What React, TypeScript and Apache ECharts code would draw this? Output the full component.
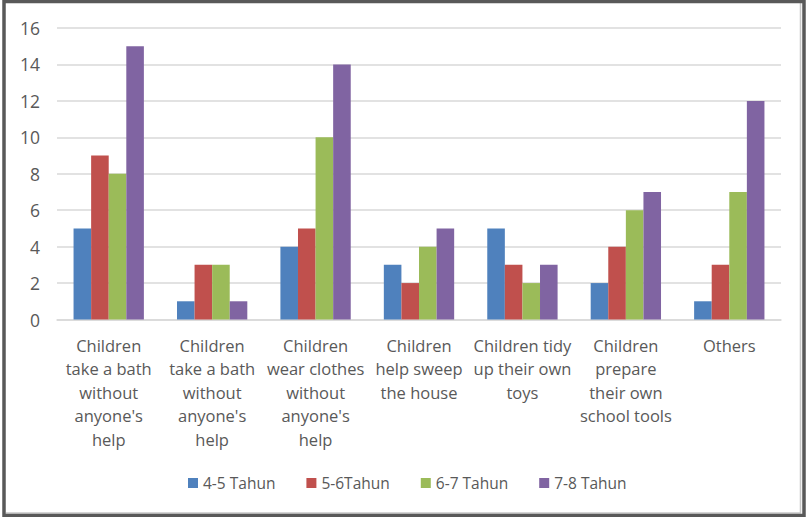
import React, { useEffect, useRef } from "react";
import * as echarts from "echarts";

const categories = [
  "Children\ntake a bath\nwithout\nanyone's\nhelp",
  "Children\ntake a bath\nwithout\nanyone's\nhelp",
  "Children\nwear clothes\nwithout\nanyone's\nhelp",
  "Children\nhelp sweep\nthe house",
  "Children tidy\nup their own\ntoys",
  "Children\nprepare\ntheir own\nschool tools",
  "Others",
];
const seriesNames = ["4-5 Tahun", "5-6Tahun", "6-7 Tahun", "7-8 Tahun"];
const age45 = [5, 1, 4, 3, 5, 2, 1];
const age56 = [9, 3, 5, 2, 3, 4, 3];
const age67 = [8, 3, 10, 4, 2, 6, 7];
const age78 = [15, 1, 14, 5, 3, 7, 12];
const colors = ["#4F81BD", "#C0504D", "#9BBB59", "#8064A2"];

const FONT = "'Open Sans', sans-serif";
const TEXT = "#595959";

export default function App() {
  const ref = useRef<HTMLDivElement>(null);
  useEffect(() => {
    document.body.style.margin = "0";
    const chart = echarts.init(ref.current!, null, { renderer: "svg" });
    const data = [age45, age56, age67, age78];
    chart.setOption({
      animation: false,
      backgroundColor: "#ffffff",
      textStyle: { fontFamily: FONT },
      grid: { left: 57, right: 25, top: 28, bottom: 197.5, containLabel: false },
      legend: {
        data: seriesNames,
        bottom: 21,
        left: 183,
        icon: "rect",
        itemWidth: 10,
        itemHeight: 10,
        itemGap: 31,
        textStyle: { fontFamily: FONT, fontSize: 15.5, color: TEXT },
      },
      xAxis: {
        type: "category",
        data: categories,
        axisLine: { show: true, lineStyle: { color: "#D9D9D9", width: 1.5 } },
        axisTick: { show: false },
        axisLabel: {
          interval: 0,
          margin: 14,
          fontFamily: FONT,
          fontSize: 16.5,
          lineHeight: 23.5,
          color: TEXT,
          align: "center",
        },
      },
      yAxis: {
        type: "value",
        min: 0,
        max: 16,
        interval: 2,
        axisLine: { show: false },
        axisTick: { show: false },
        splitLine: { lineStyle: { color: "#D9D9D9", width: 1.5 } },
        axisLabel: { margin: 17, fontFamily: FONT, fontSize: 17.5, color: TEXT },
      },
      series: data.map((d, i) => ({
        type: "bar",
        name: seriesNames[i],
        data: d,
        itemStyle: { color: colors[i] },
        barGap: "0%",
        barCategoryGap: "32%",
      })),
      graphic: [
        {
          type: "polyline",
          shape: { points: [[800.5, 3], [800.5, 513], [6, 513]] },
          style: { stroke: "#C8C8C8", lineWidth: 1.5, fill: null },
          z: 100,
        },
        {
          type: "rect",
          shape: { x: 4, y: 1.5, width: 800, height: 514 },
          style: { stroke: "#595959", lineWidth: 3.5, fill: null },
          z: 101,
        },
      ],
    });
    return () => chart.dispose();
  }, []);
  return (
    <div
      ref={ref}
      style={{ position: "absolute", left: 0, top: 0, width: 806, height: 517 }}
    />
  );
}
